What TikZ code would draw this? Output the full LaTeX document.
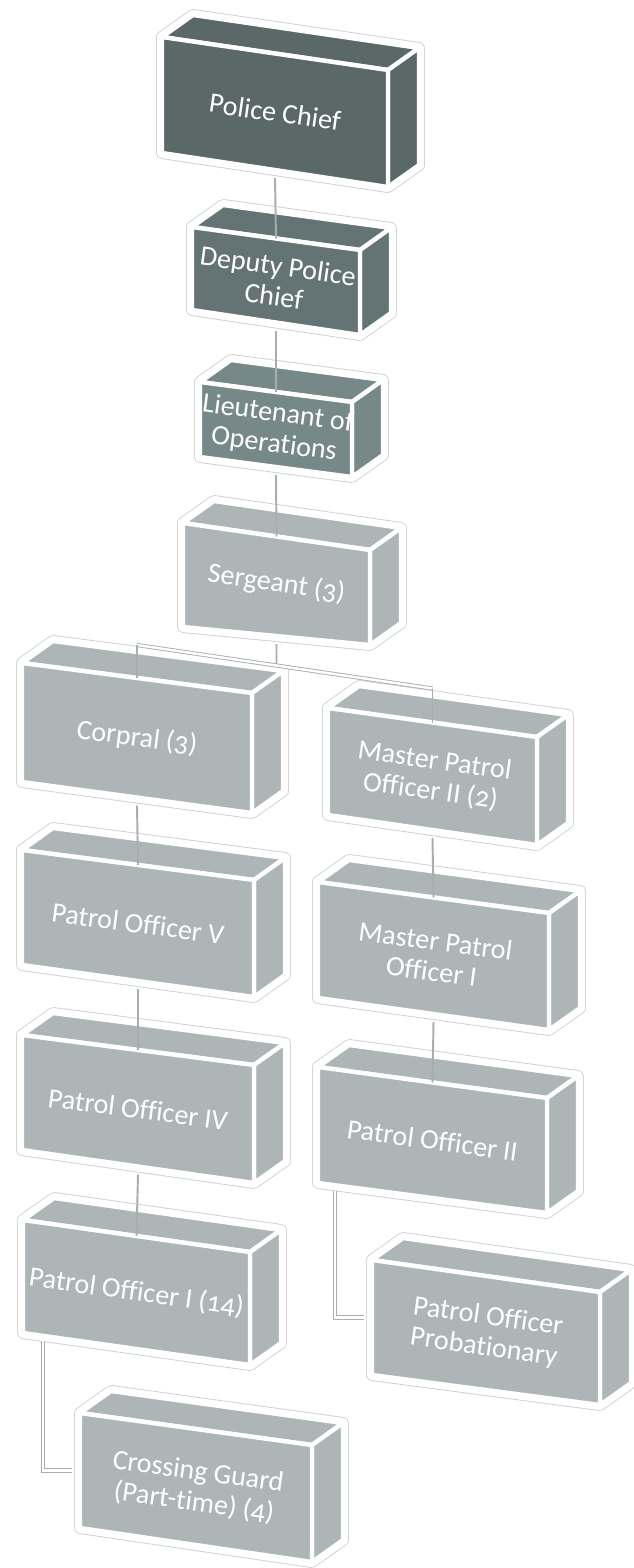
\documentclass[tikz,border=0pt]{standalone}
\usepackage{fontspec}
\setmainfont{Carlito}[Numbers=OldStyle, Ligatures=NoCommon]
\usepackage{tikz}
\usetikzlibrary{calc}
\definecolor{chief}{HTML}{5A6868}
\definecolor{deputy}{HTML}{647474}
\definecolor{lieut}{HTML}{778888}
\definecolor{rank}{HTML}{AEB5B6}
\definecolor{rim}{HTML}{CDD1D1}
\definecolor{wire}{HTML}{A7AEAE}
\tikzset{
  shell/.style={draw=rim, line width=6.8pt, line join=round},
  halo/.style={draw=white, line width=5.8pt, line join=round},
  face/.style={draw=white, line width=2.5pt, line join=round},
  lab/.style={text=white, font=\fontsize{16}{17.5}\selectfont, align=center, inner sep=0pt},
  link/.style={draw=wire, line width=1.1pt},
  elbow/.style={draw=wire, line width=0.5pt, double=white, double distance=1.4pt},
}
\def\bdx{31}
\def\bdy{-22}
% box: name, colour, front top-left, width, left height, drop, right height, text
\newcommand{\orgbox}[8]{%
  \coordinate (#1-tl) at #3;
  \coordinate (#1-tr) at ($(#1-tl)+(#4,#6)$);
  \coordinate (#1-bl) at ($(#1-tl)+(0,#5)$);
  \coordinate (#1-br) at ($(#1-tr)+(0,#7)$);
  \coordinate (#1-ktl) at ($(#1-tl)+(\bdx,\bdy)$);
  \coordinate (#1-ktr) at ($(#1-tr)+(\bdx,\bdy)$);
  \coordinate (#1-kbr) at ($(#1-br)+(\bdx,\bdy)$);
  \path[shell] (#1-bl) -- (#1-tl) -- (#1-ktl) -- (#1-ktr) -- (#1-kbr) -- (#1-br) -- cycle;
  \path[halo] (#1-bl) -- (#1-tl) -- (#1-ktl) -- (#1-ktr) -- (#1-kbr) -- (#1-br) -- cycle;
  \path[face, fill=#2] (#1-tl) -- (#1-ktl) -- (#1-ktr) -- (#1-tr) -- cycle;
  \path[face, fill=#2] (#1-tr) -- (#1-ktr) -- (#1-kbr) -- (#1-br) -- cycle;
  \path[face, fill=#2] (#1-tl) -- (#1-tr) -- (#1-br) -- (#1-bl) -- cycle;
  \coordinate (#1-top) at ($(#1-tl)!0.5!(#1-tr)$);
  \coordinate (#1-bot) at ($(#1-bl)!0.5!(#1-br)+(0,8)$);
  \coordinate (#1-lft) at ($(#1-tl)!0.5!(#1-bl)+(-8,0)$);
  \node[lab, rotate={-atan(#6/#4)}] (#1) at ($(#1-tl)!0.5!(#1-br)$) {#8};
}

\begin{document}
\begin{tikzpicture}[x=0.02cm, y=-0.02cm]
  \useasboundingbox (0,0) rectangle (634,1568);

  \orgbox{chief}{chief}{(162,37)}{226}{116}{33}{117}{Police Chief}
  \orgbox{deputy}{deputy}{(192,227)}{168}{83}{23}{85}{Deputy Police\\Chief}
  \orgbox{lieut}{lieut}{(200,382)}{152}{75}{20}{75}{Lieutenant of\\Operations}
  \orgbox{sgt}{rank}{(183,523)}{187}{104}{27}{95}{Sergeant (3)}
  \orgbox{corp}{rank}{(22,663)}{230}{119}{30}{120}{Corpral (3)}
  \orgbox{mpo2}{rank}{(328,708)}{209}{107}{29}{108}{Master Patrol\\Officer II (2)}
  \orgbox{po5}{rank}{(22,850)}{232}{115}{30}{117}{Patrol Officer V}
  \orgbox{mpo1}{rank}{(318,882)}{231}{116}{31}{117}{Master Patrol\\Officer I}
  \orgbox{po4}{rank}{(22,1035)}{232}{115}{30}{118}{Patrol Officer IV}
  \orgbox{po2}{rank}{(318,1067)}{229}{116}{31}{115}{Patrol Officer II}
  \orgbox{po1}{rank}{(23,1220)}{227}{113}{32}{113}{Patrol Officer I (14)}
  \orgbox{prob}{rank}{(372,1260)}{228}{115}{32}{113}{Patrol Officer\\Probationary}
  \orgbox{guard}{rank}{(80,1413)}{232}{115}{32}{117}{Crossing Guard\\(Part-time) (4)}

  % chain of command
  \draw[link] (chief-bot) -- (deputy-top);
  \draw[link] (deputy-bot) -- (lieut-top);
  \draw[link] (lieut-bot) -- (sgt-top);

  \coordinate (bar-l) at ($(corp-top)+(0,-33)$);
  \coordinate (bar-r) at ($(mpo2-top)+(0,-34)$);
  \draw[link] (sgt-bot) -- (intersection of sgt-top--sgt-bot and bar-l--bar-r);
  \draw[elbow] (bar-l) -- (bar-r);
  \draw[link] (bar-l) -- (corp-top);
  \draw[link] (bar-r) -- (mpo2-top);

  \draw[link] (corp-bot) -- (po5-top);
  \draw[link] (po5-bot) -- (po4-top);
  \draw[link] (po4-bot) -- (po1-top);
  \draw[link] (mpo2-bot) -- (mpo1-top);
  \draw[link] (mpo1-bot) -- (po2-top);

  \coordinate (po2-drop) at ($(po2-bl)+(17,8)$);
  \coordinate (po1-drop) at ($(po1-bl)+(20,8)$);
  \draw[elbow] (po2-drop) |- (prob-lft);
  \draw[elbow] (po1-drop) |- (guard-lft);
\end{tikzpicture}
\end{document}
